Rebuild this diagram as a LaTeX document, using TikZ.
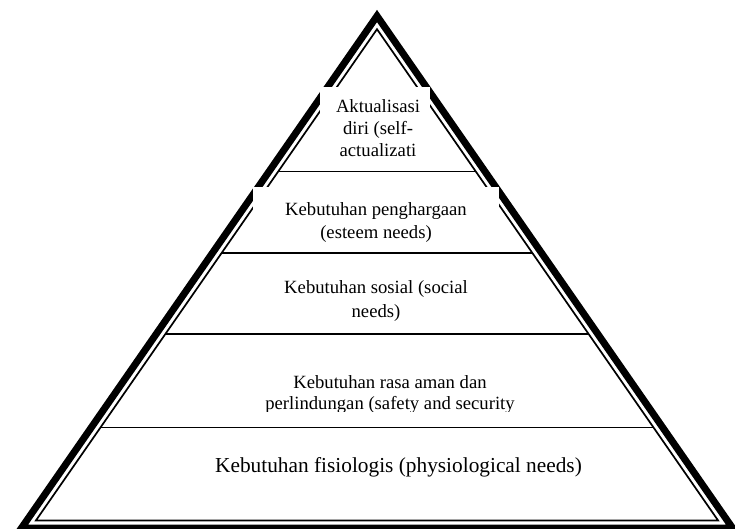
\documentclass[tikz,border=0pt]{standalone}
\usepackage{fontspec}
\setmainfont{Liberation Serif}
\usetikzlibrary{calc}
\tikzset{
  outerline/.style={line width=7pt, line join=miter},
  innerline/.style={line width=1.7pt, line join=miter},
  divider/.style={line width=1.8pt},
  cover/.style={fill=white, draw=none},
  lbl/.style={inner sep=0pt, align=center, anchor=north},
}
\begin{document}
\begin{tikzpicture}[x=1pt,y=-1pt]
\useasboundingbox (0,0) rectangle (735,528);
% outer triangle
\coordinate (oA) at (377,16);
\coordinate (oL) at (21.5,528);
\coordinate (oR) at (732.5,528);
% inner triangle
\coordinate (iA) at (377,29.2);
\coordinate (iL) at (35.9,520.5);
\coordinate (iR) at (718.1,520.5);
\draw[outerline] (oA) -- (oR) -- (oL) -- cycle;
\draw[innerline] (iA) -- (iR) -- (iL) -- cycle;
% white text boxes covering the edges
\fill[cover] (320,87) rectangle (430,170.5);
\fill[cover] (253,187) rectangle (499,252);
% dividers
\draw[divider] ($(iA)!0.2896!(iL)$) -- ($(iA)!0.2896!(iR)$);
\draw[divider] ($(iA)!0.4555!(iL)$) -- ($(iA)!0.4555!(iR)$);
\draw[divider] ($(iA)!0.6204!(iL)$) -- ($(iA)!0.6204!(iR)$);
\draw[divider] ($(iA)!0.8107!(iL)$) -- ($(iA)!0.8107!(iR)$);
% labels
\node[lbl, font=\fontsize{18.67}{22}\selectfont] (top) at (378,96.6)
  {\strut Aktualisasi\\\strut diri (self-\\\strut actualizati};
\node[lbl, font=\fontsize{18.67}{23}\selectfont] (esteem) at (376,198.9)
  {\strut Kebutuhan penghargaan\\\strut (esteem needs)};
\node[lbl, font=\fontsize{18.67}{24}\selectfont] (social) at (376,276.2)
  {\strut Kebutuhan sosial (social\\\strut needs)};
\begin{scope}
\clip (150,340) rectangle (620,411);
\node[lbl, font=\fontsize{18.67}{21}\selectfont] (safety) at (390,373.3)
  {\strut Kebutuhan rasa aman dan\\\strut perlindungan (safety and security};
\end{scope}
\node[inner sep=0pt, anchor=base, font=\fontsize{21.33}{26}\selectfont] (physio) at (398.5,472)
  {Kebutuhan fisiologis (physiological needs)};
\end{tikzpicture}
\end{document}
